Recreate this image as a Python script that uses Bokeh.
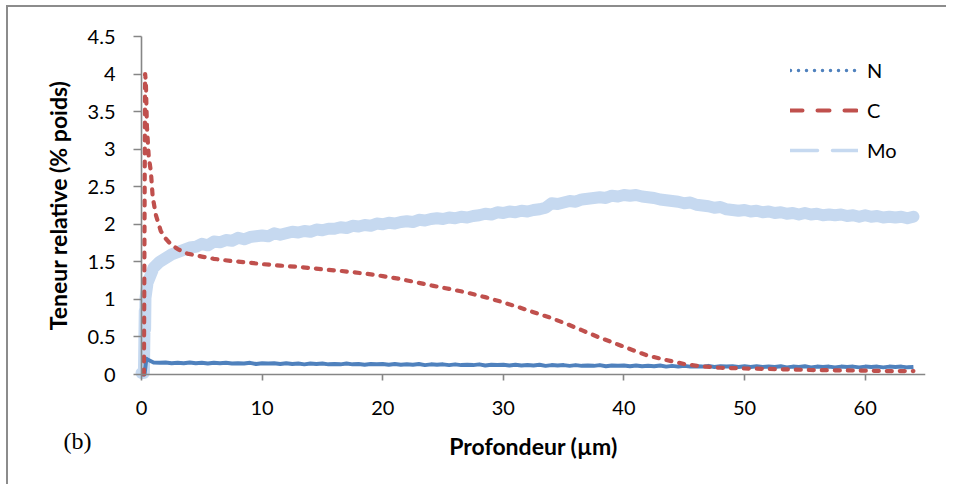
from bokeh.plotting import figure
from bokeh.models import Range1d, FixedTicker, Legend, LegendItem, Label, ColumnDataSource
from bokeh.embed import file_html
from bokeh.resources import INLINE

# ---------------- data ----------------
series_names = ["N", "C", "Mo"]
panel_tag = "(b)"

# Mo (% poids) sampled every 0.5 um from 0.5 to 64
mo_start_depth = [0.0, 0.2, 0.27, 0.3, 0.33]
mo_start_value = [0.02, 0.02, 0.85, 0.6, 1.02]
mo_values = [
    1.22, 1.42, 1.50, 1.55, 1.60, 1.63, 1.66, 1.69, 1.70, 1.74,
    1.72, 1.77, 1.76, 1.79, 1.78, 1.82, 1.80, 1.83, 1.84, 1.85,
    1.84, 1.88, 1.86, 1.88, 1.90, 1.89, 1.91, 1.90, 1.93, 1.92,
    1.94, 1.94, 1.96, 1.95, 1.98, 1.97, 1.99, 1.98, 2.01, 2.00,
    2.02, 2.01, 2.03, 2.04, 2.03, 2.06, 2.05, 2.07, 2.08, 2.07,
    2.09, 2.08, 2.10, 2.09, 2.11, 2.12, 2.14, 2.13, 2.16, 2.15,
    2.17, 2.16, 2.18, 2.17, 2.19, 2.20, 2.22, 2.28, 2.27, 2.29,
    2.31, 2.30, 2.33, 2.34, 2.35, 2.36, 2.35, 2.38, 2.37, 2.39,
    2.38, 2.39, 2.37, 2.36, 2.35, 2.33, 2.32, 2.31, 2.30, 2.28,
    2.29, 2.26, 2.25, 2.24, 2.22, 2.23, 2.20, 2.19, 2.18, 2.19,
    2.17, 2.18, 2.16, 2.17, 2.15, 2.16, 2.14, 2.15, 2.13, 2.15,
    2.13, 2.14, 2.12, 2.13, 2.12, 2.13, 2.11, 2.12, 2.10, 2.12,
    2.10, 2.11, 2.09, 2.10, 2.09, 2.10, 2.08, 2.10,
]

# N (% poids) sampled every 0.5 um from 0.5 to 64
n_start_depth = [0.0, 0.25, 0.4]
n_start_value = [0.0, 0.0, 0.21]
n_values = [
    0.20, 0.16, 0.155, 0.16, 0.15, 0.155, 0.15, 0.16, 0.15, 0.155,
    0.145, 0.155, 0.15, 0.155, 0.145, 0.15, 0.145, 0.155, 0.14, 0.15,
    0.145, 0.15, 0.14, 0.15, 0.14, 0.145, 0.135, 0.145, 0.14, 0.145,
    0.135, 0.14, 0.135, 0.145, 0.135, 0.14, 0.13, 0.14, 0.135, 0.14,
    0.13, 0.14, 0.13, 0.135, 0.13, 0.14, 0.125, 0.135, 0.13, 0.135,
    0.125, 0.135, 0.125, 0.13, 0.125, 0.135, 0.12, 0.13, 0.125, 0.13,
    0.12, 0.13, 0.12, 0.125, 0.12, 0.13, 0.115, 0.125, 0.12, 0.125,
    0.115, 0.125, 0.115, 0.12, 0.115, 0.125, 0.11, 0.12, 0.115, 0.12,
    0.11, 0.12, 0.11, 0.115, 0.11, 0.12, 0.105, 0.115, 0.105, 0.115,
    0.105, 0.11, 0.105, 0.115, 0.10, 0.11, 0.105, 0.11, 0.10, 0.11,
    0.10, 0.11, 0.10, 0.105, 0.10, 0.11, 0.095, 0.105, 0.10, 0.11,
    0.095, 0.105, 0.10, 0.105, 0.095, 0.105, 0.10, 0.105, 0.095, 0.105,
    0.10, 0.105, 0.095, 0.105, 0.10, 0.105, 0.095, 0.10,
]

# C (% poids), smooth profile
c_depth = [0.2, 0.3, 0.36, 0.45, 0.6, 0.78, 0.93, 1.2, 1.6, 2.0, 2.4, 3.0, 3.8,
           5.0, 6.0, 7.5, 8.8, 10.0, 11.5, 13.2, 15.0, 16.5, 18.7, 20.0, 21.5,
           23.0, 24.2, 25.5, 27.0, 28.5, 29.8, 31.0, 32.5, 34.0, 35.3, 36.5,
           38.0, 39.5, 40.8, 42.0, 43.6, 45.0, 46.3, 48.0, 50.0, 51.8, 55.4,
           59.0, 62.3, 64.0]
c_values = [0.0, 4.0, 3.9, 3.3, 2.9, 2.7, 2.36, 2.12, 1.91, 1.81, 1.74, 1.67, 1.61,
            1.57, 1.54, 1.51, 1.49, 1.47, 1.45, 1.43, 1.40, 1.38, 1.34, 1.31, 1.27,
            1.22, 1.18, 1.14, 1.09, 1.03, 0.97, 0.91, 0.83, 0.75, 0.67, 0.59,
            0.49, 0.40, 0.32, 0.25, 0.19, 0.14, 0.11, 0.09, 0.08, 0.075, 0.06,
            0.053, 0.045, 0.045]

x_ticks = [0, 10, 20, 30, 40, 50, 60]
y_ticks = [0, 0.5, 1, 1.5, 2, 2.5, 3, 3.5, 4, 4.5]
y_tick_labels = ["0", "0.5", "1", "1.5", "2", "2.5", "3", "3.5", "4", "4.5"]
x_axis_max = 65
y_axis_max = 4.5

mo_depth = mo_start_depth + [0.5 * (i + 1) for i in range(len(mo_values))]
mo_all = mo_start_value + mo_values
n_depth = n_start_depth + [0.5 * (i + 1) for i in range(len(n_values))]
n_all = n_start_value + n_values

# ---------------- layout (pixels) ----------------
W, H = 940, 479
AXIS_TOP = 29             # canvas px where value 4.5 sits
FRAME_RIGHT_PAD = 23
AXIS_X0 = 133             # canvas px where depth 0 sits
AXIS_Y0 = 367             # canvas px where value 0 sits
x_ppu = (W - FRAME_RIGHT_PAD - AXIS_X0) / x_axis_max
y_ppu = (AXIS_Y0 - AXIS_TOP) / y_axis_max
x_start = -AXIS_X0 / x_ppu
y_start = -(H - AXIS_Y0) / y_ppu
y_end = y_axis_max + AXIS_TOP / y_ppu

FONT = "Lato"
AXIS_COLOR = "#868686"
C_N = "#4F81BD"
C_C = "#C0504D"
C_MO = "#C6D9F0"

p = figure(width=W, height=H, output_backend="svg", toolbar_location=None,
           x_range=Range1d(x_start, x_axis_max), y_range=Range1d(y_start, y_end),
           min_border_left=0, min_border_right=FRAME_RIGHT_PAD, min_border_top=0,
           min_border_bottom=0)
p.styles = {"border-top": "2px solid #8c8c8c", "border-left": "2px solid #8c8c8c",
            "margin-left": "6px", "margin-top": "5px"}
p.outline_line_color = None
p.xgrid.visible = False
p.ygrid.visible = False

for ax in (p.xaxis[0], p.yaxis[0]):
    ax.fixed_location = 0
    ax.axis_line_color = AXIS_COLOR
    ax.axis_line_width = 1.6
    ax.major_tick_line_color = AXIS_COLOR
    ax.major_tick_line_width = 1.6
    ax.major_tick_in = 0
    ax.minor_tick_line_color = None
    ax.major_label_text_font = FONT
    ax.major_label_text_font_size = "20px"
    ax.major_label_text_color = "black"
    ax.axis_label_text_font = FONT
    ax.axis_label_text_font_size = "23px"
    ax.axis_label_text_font_style = "bold"
    ax.axis_label_text_color = "black"

p.xaxis.bounds = (0, x_axis_max)
p.xaxis.ticker = FixedTicker(ticks=x_ticks)
p.xaxis.major_tick_out = 6
p.xaxis.major_label_standoff = 20
p.xaxis.axis_label = "Profondeur (µm)"
p.xaxis.axis_label_standoff = 14

p.yaxis.bounds = (0, y_axis_max)
p.yaxis.ticker = FixedTicker(ticks=y_ticks)
p.yaxis.major_label_overrides = {t: l for t, l in zip(y_ticks, y_tick_labels)}
p.yaxis.major_tick_out = 8
p.yaxis.major_label_standoff = 18
p.yaxis.axis_label = "Teneur relative (% poids)"
p.yaxis.axis_label_standoff = 13

# data lines
p.line(mo_depth, mo_all, line_color=C_MO, line_width=12, line_join="round", line_cap="round")
p.line(n_depth, n_all, line_color=C_N, line_width=4, line_join="round")
p.line(c_depth, c_values, line_color=C_C, line_width=4.2, line_dash="5 8", line_cap="round", line_join="round")

# legend samples (kept outside the visible range)
off = dict(x=[x_start - 10, x_start - 9], y=[y_start - 10, y_start - 10])
leg_n = p.line(x="x", y="y", source=ColumnDataSource(off), line_color=C_N, line_width=3.5,
               line_dash="0 8", line_cap="round")
leg_c = p.line(x="x", y="y", source=ColumnDataSource(off), line_color=C_C, line_width=4,
               line_dash="12 15", line_cap="round")
leg_mo = p.line(x="x", y="y", source=ColumnDataSource(off), line_color=C_MO, line_width=3.5,
                line_dash="27 15", line_cap="round")

legend = Legend(items=[LegendItem(label=series_names[0], renderers=[leg_n]),
                       LegendItem(label=series_names[1], renderers=[leg_c]),
                       LegendItem(label=series_names[2], renderers=[leg_mo])],
                location=(AXIS_X0 + 649, (H - AXIS_Y0) + 212), glyph_width=68,
                glyph_height=24, label_height=24,
                spacing=16, label_standoff=9, padding=0, margin=0,
                border_line_color=None, background_fill_alpha=0,
                label_text_font=FONT, label_text_font_size="20px", label_text_color="black")
p.add_layout(legend, "center")

# panel tag "(b)" at the lower left
p.add_layout(Label(x=-78 / x_ppu, y=-66 / y_ppu, text=panel_tag, text_baseline="middle",
                   text_align="left", text_font="Liberation Serif", text_font_size="24px",
                   text_color="black"))

open("out.html", "w").write(file_html(p, INLINE))
